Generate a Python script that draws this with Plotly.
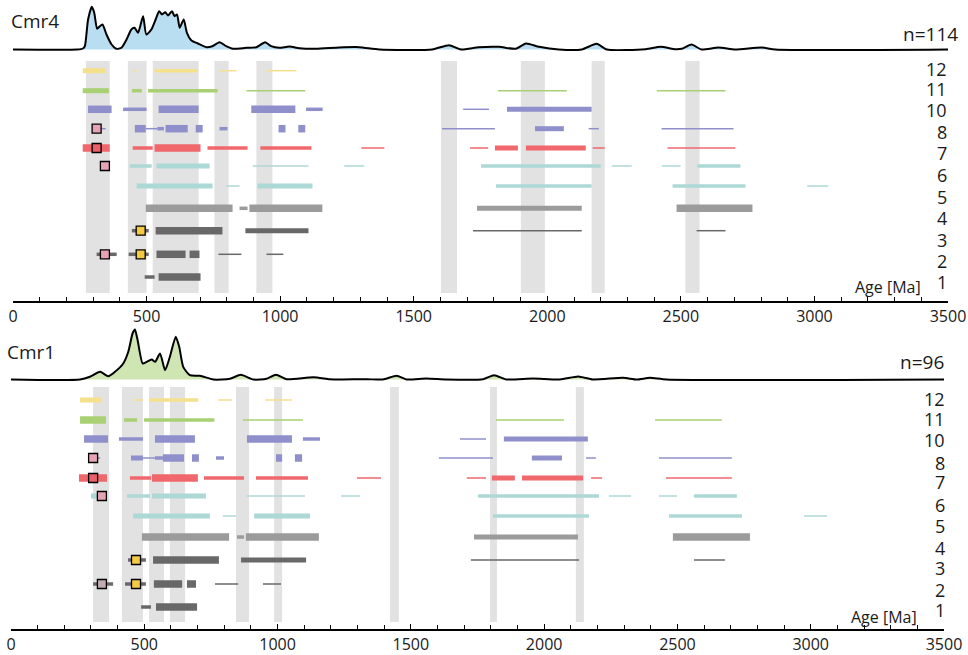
import plotly.graph_objects as go

W, H = 968, 655
FONT = "Open Sans"

# ---------------- data ----------------
ROW_NAMES = ["12", "11", "10", "8", "7", "6", "5", "4", "3", "2", "1"]
ROW_COLORS = ["#f5e08c", "#a9d072", "#8f90cb", "#8f90cb", "#f0676c", "#acd8d6",
              "#acd8d6", "#9b9b9b", "#686868", "#686868", "#686868"]
TICK_LABELS = ["0", "500", "1000", "1500", "2000", "2500", "3000", "3500"]

# density curves (age Ma, relative height)
CMR4_DENS_AGE = [0, 240, 262, 269, 281, 295, 304, 315, 324, 335, 350, 369, 387, 406, 425, 443, 455,
                 468, 487, 499, 518, 534, 547, 558, 570, 580, 595, 605, 614, 624, 639, 651, 667, 692,
                 724, 746, 773, 798, 823, 874, 911, 944, 966, 997, 1035, 1072, 1134, 1221, 1296,
                 1371, 1569, 1632, 1677, 1744, 1819, 1882, 1920, 1969, 2043, 2129, 2185, 2223, 2368,
                 2424, 2480, 2503, 2540, 2577, 2641, 2704, 2802, 2854, 3500]
CMR4_DENS_VAL = [0, 0, 1, 3.3, 30, 42.7, 36.7, 20.7, 23, 25, 15, 5, 0.7, 1.7, 10, 20, 21.7,
                 16.7, 33.3, 15, 20, 30, 38.3, 35, 37.3, 34, 38.3, 33.3, 35, 21.7, 30, 16.7, 9.3, 6,
                 2.3, 3.3, 7.3, 3.3, 0.7, 1.7, 2.3, 7.3, 3.3, 1.7, 3, 1.3, 0.7, 2, 2.3,
                 0, 0, 4.3, 0, 2.3, 2.7, 0.7, 6, 2.7, 0, 0, 5.7, 0, 0.3,
                 2.7, 0.3, 0.7, 5, 0, 2, 0, 2, 0, 0]
CMR1_DENS_AGE = [0, 259, 296, 334, 365, 390, 421, 440, 456, 465, 475, 494, 509, 528, 541, 559, 578,
                 596, 618, 631, 646, 671, 709, 759, 821, 862, 909, 959, 994, 1034, 1134, 1196,
                 1234, 1335, 1395, 1447, 1484, 1559, 1634, 1771, 1812, 1859, 1958, 2059, 2128,
                 2183, 2296, 2348, 2397, 2459, 3500]
CMR1_DENS_VAL = [0, 0, 2.7, 7.7, 3.3, 7.7, 16, 27.7, 46, 50, 39.3, 16, 17.7, 20, 17.7, 26, 9.3,
                 22.7, 42.7, 32.7, 12.7, 4.3, 3.7, 0, 0.7, 4.7, 0, 0.7, 4.7, 0.3, 2.3, 0.3,
                 0, 0.3, 0, 3.7, 0, 1, 0, 0.3, 4.3, 0, 1, 0, 3,
                 0, 1.7, 0, 1.7, 0, 0]

# age segments per row: (start Ma, end Ma, weight level 1..4)
CMR4_R12 = [(261, 347, 3), (450, 463, 1), (530, 691, 2), (770, 837, 1), (948, 1061, 1)]
CMR4_R11 = [(261, 359, 3), (445, 482, 2), (505, 766, 2), (874, 1094, 1), (1815, 2073, 1), (2410, 2667, 1)]
CMR4_R10 = [(281, 369, 4), (412, 500, 2), (545, 695, 4), (892, 1057, 4), (1097, 1159, 2), (1685, 1782, 1),
            (1849, 2166, 3)]
CMR4_R8 = [(325, 347, 1), (456, 497, 4), (497, 540, 1), (540, 565, 2), (571, 654, 4), (684, 710, 4),
           (773, 803, 2), (994, 1020, 4), (1068, 1094, 4), (1606, 1804, 1), (1954, 2062, 3),
           (2155, 2193, 1), (2428, 2697, 1)]
CMR4_R7 = [(261, 362, 4), (448, 523, 2), (530, 702, 4), (728, 878, 2), (926, 1117, 2), (1304, 1390, 1),
           (1711, 1778, 1), (1804, 1890, 3), (1920, 2144, 3), (2170, 2215, 1), (2450, 2704, 1)]
CMR4_R6 = [(330, 352, 1), (437, 519, 2), (537, 736, 3), (897, 1106, 1), (1240, 1315, 1), (1752, 2200, 2),
           (2241, 2316, 1), (2428, 2499, 1), (2562, 2723, 2)]
CMR4_R5 = [(463, 747, 3), (799, 848, 1), (915, 1121, 3), (1808, 2166, 2), (2469, 2742, 2), (2973, 3052, 1)]
CMR4_R4 = [(497, 822, 4), (848, 878, 2), (885, 1158, 4), (1737, 2129, 3), (2484, 2768, 4)]
CMR4_R3 = [(445, 508, 2), (534, 784, 4), (870, 1106, 3), (1722, 2129, 1), (2559, 2667, 1)]
CMR4_R2 = [(313, 388, 2), (433, 508, 2), (537, 646, 4), (661, 698, 4), (769, 855, 1), (949, 1012, 1)]
CMR4_R1 = [(493, 530, 2), (545, 702, 4)]

CMR1_R12 = [(259, 341, 3), (458, 496, 1), (521, 703, 2), (777, 829, 1), (953, 1054, 1)]
CMR1_R11 = [(259, 356, 4), (424, 473, 2), (499, 763, 2), (870, 1095, 1), (1819, 2074, 1), (2416, 2667, 1)]
CMR1_R10 = [(274, 364, 4), (405, 495, 2), (540, 690, 4), (885, 1054, 4), (1095, 1159, 2), (1684, 1782, 1),
            (1849, 2164, 3)]
CMR1_R8 = [(320, 335, 1), (450, 495, 3), (495, 540, 1), (540, 570, 2), (570, 649, 4), (679, 705, 4),
           (769, 799, 2), (994, 1017, 4), (1065, 1092, 4), (1605, 1808, 1), (1954, 2067, 3),
           (2157, 2194, 1), (2431, 2704, 1)]
CMR1_R7 = [(255, 360, 4), (446, 525, 2), (529, 701, 4), (724, 874, 2), (919, 1114, 2), (1298, 1388, 1),
           (1710, 1782, 1), (1804, 1890, 3), (1917, 2146, 3), (2176, 2217, 1), (2457, 2704, 1)]
CMR1_R6 = [(300, 360, 3), (435, 521, 2), (529, 731, 3), (885, 1103, 1), (1238, 1309, 1), (1752, 2206, 2),
           (2243, 2326, 1), (2431, 2498, 1), (2562, 2723, 2)]
CMR1_R5 = [(458, 746, 3), (795, 844, 1), (912, 1122, 3), (1808, 2168, 2), (2468, 2742, 2), (2975, 3061, 1)]
CMR1_R4 = [(491, 818, 4), (848, 874, 2), (881, 1155, 4), (1737, 2127, 3), (2483, 2772, 4)]
CMR1_R3 = [(439, 506, 2), (533, 780, 4), (863, 1107, 3), (1725, 2131, 1), (2562, 2678, 1)]
CMR1_R2 = [(308, 383, 2), (428, 506, 2), (536, 642, 4), (660, 694, 4), (765, 852, 1), (945, 1013, 1)]
CMR1_R1 = [(488, 525, 2), (544, 698, 4)]

# grey age bands (start, end)
CMR4_BANDS = [(273, 362), (430, 500), (523, 695), (754, 807), (911, 971), (1602, 1662),
              (1901, 1991), (2166, 2215), (2517, 2570)]
CMR1_BANDS = [(308, 368), (416, 495), (518, 574), (596, 653), (844, 893), (987, 1017),
              (1422, 1455), (1797, 1823), (2119, 2149)]

# square markers: (row, age, kind)
CMR4_MARKS = [("8", 313, "pink"), ("7", 313, "red"), ("6", 344, "pink"), ("3", 478, "yellow"),
              ("2", 344, "pink"), ("2", 478, "yellow")]
CMR1_MARKS = [("8", 308, "pink"), ("7", 308, "red"), ("6", 341, "pink"), ("3", 469, "yellow"),
              ("2", 341, "mauve"), ("2", 469, "yellow")]

# ---------------- styling / layout constants ----------------
LEVEL_W = {1: 1.5, 2: 3.5, 3: 5.0, 4: 7.5}
MARK_COL = {"pink": "#e6a3b4", "red": "#e9606a", "yellow": "#f6c945", "mauve": "#c2aab5"}

PANELS = [
    dict(name="Cmr4", n="n=114", x="x", yd="y", yr="y2",
         dens=(CMR4_DENS_AGE, CMR4_DENS_VAL), fill="#b9def1",
         rows=[CMR4_R12, CMR4_R11, CMR4_R10, CMR4_R8, CMR4_R7, CMR4_R6, CMR4_R5, CMR4_R4,
               CMR4_R3, CMR4_R2, CMR4_R1],
         bands=CMR4_BANDS, marks=CMR4_MARKS,
         row_pos=[70.7, 90.7, 109.3, 128.7, 148, 166, 186, 208.3, 230.7, 254.3, 277],
         lab_pos=[69, 89, 110, 132, 153, 175, 197, 218, 240, 261, 282],
         band_y=(61, 293), lab_x=948, age_pos=(922, 287),
         title_pos=(10, 21), n_pos=(959, 34)),
    dict(name="Cmr1", n="n=96", x="x2", yd="y3", yr="y4",
         dens=(CMR1_DENS_AGE, CMR1_DENS_VAL), fill="#cfe6b3",
         rows=[CMR1_R12, CMR1_R11, CMR1_R10, CMR1_R8, CMR1_R7, CMR1_R6, CMR1_R5, CMR1_R4,
               CMR1_R3, CMR1_R2, CMR1_R1],
         bands=CMR1_BANDS, marks=CMR1_MARKS,
         row_pos=[400, 420, 439, 458, 478, 496, 516, 537, 560, 584, 607],
         lab_pos=[399, 419, 440, 463, 482, 505, 526, 548, 568, 590, 610],
         band_y=(387, 622), lab_x=946, age_pos=(918, 617),
         title_pos=(6, 352), n_pos=(945, 362)),
]

fig = go.Figure()
shapes, annotations = [], []

for p in PANELS:
    # density curve
    ages, vals = p["dens"]
    fig.add_trace(go.Scatter(x=ages, y=vals, mode="lines", xaxis=p["x"], yaxis=p["yd"],
                             line=dict(color="black", width=2, shape="spline", smoothing=0.6),
                             fill="tozeroy", fillcolor=p["fill"], hoverinfo="skip",
                             showlegend=False))
    # bands
    for b0, b1 in p["bands"]:
        shapes.append(dict(type="rect", xref=p["x"], yref=p["yr"], x0=b0, x1=b1,
                           y0=p["band_y"][0], y1=p["band_y"][1], fillcolor="#e2e2e2",
                           line=dict(width=0), layer="below"))
    # row segments
    for ri, segs in enumerate(p["rows"]):
        ypos = p["row_pos"][ri]
        for lvl in (1, 2, 3, 4):
            xs, ys = [], []
            for s, e, l in segs:
                if l == lvl:
                    xs += [s, e, None]
                    ys += [ypos, ypos, None]
            if xs:
                fig.add_trace(go.Scatter(x=xs, y=ys, mode="lines", xaxis=p["x"], yaxis=p["yr"],
                                         line=dict(color=ROW_COLORS[ri], width=LEVEL_W[lvl]),
                                         hoverinfo="skip", showlegend=False))
        annotations.append(dict(text=ROW_NAMES[ri], xref="paper", yref=p["yr"],
                                x=p["lab_x"] / W, y=p["lab_pos"][ri], xanchor="right",
                                yanchor="middle", showarrow=False, borderpad=0,
                                font=dict(family=FONT, size=18, color="#1a1a1a")))
    # markers
    for kind in ("pink", "red", "yellow", "mauve"):
        mx = [a for r, a, k in p["marks"] if k == kind]
        my = [p["row_pos"][ROW_NAMES.index(r)] for r, a, k in p["marks"] if k == kind]
        if mx:
            fig.add_trace(go.Scatter(x=mx, y=my, mode="markers", xaxis=p["x"], yaxis=p["yr"],
                                     marker=dict(symbol="square", size=9, color=MARK_COL[kind],
                                                 line=dict(color="black", width=1.3)),
                                     hoverinfo="skip", showlegend=False))
    annotations.append(dict(text="Age [Ma]", xref="paper", yref=p["yr"], x=p["age_pos"][0] / W,
                            y=p["age_pos"][1], xanchor="right", yanchor="middle", showarrow=False,
                            borderpad=0, font=dict(family=FONT, size=16, color="#1a1a1a")))
    annotations.append(dict(text=p["name"], xref="paper", yref="paper", x=p["title_pos"][0] / W,
                            y=1 - p["title_pos"][1] / H, xanchor="left", yanchor="middle",
                            showarrow=False, borderpad=0,
                            font=dict(family=FONT, size=19, color="#1a1a1a")))
    annotations.append(dict(text=p["n"], xref="paper", yref="paper", x=p["n_pos"][0] / W,
                            y=1 - p["n_pos"][1] / H, xanchor="right", yanchor="middle",
                            showarrow=False, borderpad=0,
                            font=dict(family=FONT, size=19, color="#1a1a1a")))


def xax(domain, anchor):
    return dict(domain=domain, anchor=anchor, range=[0, 3500], showgrid=False, zeroline=False,
                automargin=False, showline=True, linecolor="black", linewidth=1.5,
                tickmode="array", tickvals=[int(t) for t in TICK_LABELS], ticktext=TICK_LABELS,
                ticks="inside", ticklen=5, tickwidth=1.2, tickcolor="black",
                minor=dict(tickmode="linear", tick0=0, dtick=100, ticks="inside", ticklen=4,
                           tickwidth=1, tickcolor="black"),
                tickfont=dict(family=FONT, size=16, color="#1a1a1a"), fixedrange=True)


def yax(domain, rng):
    return dict(domain=domain, range=rng, visible=False, showgrid=False, zeroline=False,
                automargin=False, fixedrange=True)


fig.update_layout(
    template="none",
    width=W, height=H, margin=dict(l=0, r=0, t=0, b=0, pad=0), autosize=False,
    paper_bgcolor="white", plot_bgcolor="white",
    xaxis=xax([13 / W, 948 / W], "y2"),
    xaxis2=xax([11 / W, 944 / W], "y4"),
    yaxis=yax([1 - 52 / H, 1 - 3 / H], [-2.5, 46.5]),
    yaxis2=yax([1 - 301 / H, 1 - 55 / H], [301, 55]),
    yaxis3=yax([1 - 382 / H, 1 - 325 / H], [-2.5, 54.5]),
    yaxis4=yax([1 - 629 / H, 1 - 385 / H], [629, 385]),
    shapes=shapes, annotations=annotations,
)

fig.write_html("out.html", config={"displayModeBar": False},
               post_script="document.body.style.margin='0px';document.body.style.overflow='hidden';")
